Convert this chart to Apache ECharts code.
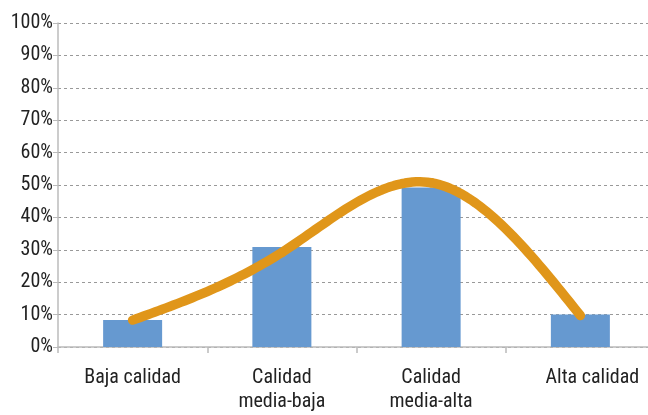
<!DOCTYPE html>
<html><head><meta charset="utf-8">
<script src="https://cdn.jsdelivr.net/npm/echarts@6/dist/echarts.min.js"></script>
<style>html,body{margin:0;padding:0;background:#fff}#c{width:648px;height:415px}</style>
</head><body><div id="c"></div>
<script>
const categories = ['Baja calidad', 'Calidad\nmedia-baja', 'Calidad\nmedia-alta', 'Alta calidad'];
const barValues = [8.3, 30.9, 49.2, 10];
const lineValues = [8.3, 29.2, 50.7, 9.7];
const yTicks = [0, 10, 20, 30, 40, 50, 60, 70, 80, 90, 100];
const font = "'Liberation Sans Narrow', 'Arial Narrow', 'Roboto Condensed', 'Liberation Sans', sans-serif";

// natural cubic spline second derivatives (x = category index, unit spacing)
function naturalSpline(y) {
  const n = y.length, M = new Array(n).fill(0);
  if (n < 3) return M;
  const a = [], b = [], c = [], d = [];
  for (let i = 1; i < n - 1; i++) {
    a.push(1); b.push(4); c.push(1); d.push(6 * (y[i - 1] - 2 * y[i] + y[i + 1]));
  }
  const m = d.length;
  for (let i = 1; i < m; i++) {
    const w = a[i] / b[i - 1];
    b[i] -= w * c[i - 1]; d[i] -= w * d[i - 1];
  }
  const sol = new Array(m);
  sol[m - 1] = d[m - 1] / b[m - 1];
  for (let i = m - 2; i >= 0; i--) sol[i] = (d[i] - c[i] * sol[i + 1]) / b[i];
  for (let i = 0; i < m; i++) M[i + 1] = sol[i];
  return M;
}
const M2 = naturalSpline(lineValues);
function splineAt(i, t) {
  const y0 = lineValues[i], y1 = lineValues[i + 1], m0 = M2[i], m1 = M2[i + 1];
  return (1 - t) * y0 + t * y1 + ((Math.pow(1 - t, 3) - (1 - t)) * m0 + (Math.pow(t, 3) - t) * m1) / 6;
}

const xData = categories.map((c, i) => i === categories.length - 1
  ? { value: c, textStyle: { padding: [0, 0, 0, 24] } }
  : c);

const chart = echarts.init(document.getElementById('c'));
chart.setOption({
  animation: false,
  grid: { left: 58, width: 597, top: 23, bottom: 68, containLabel: false, outerBoundsMode: 'none' },
  xAxis: {
    type: 'category', data: xData, boundaryGap: true,
    axisLine: { lineStyle: { color: '#BBBBBB', width: 1.5 } },
    axisTick: { show: true, length: 6, lineStyle: { color: '#BBBBBB', width: 1.5 } },
    axisLabel: { color: '#222', fontFamily: font, fontSize: 20, margin: 19, lineHeight: 24 }
  },
  yAxis: {
    type: 'value', min: yTicks[0], max: yTicks[yTicks.length - 1], interval: 10,
    axisLine: { show: true, lineStyle: { color: '#BBBBBB', width: 1.5 } },
    axisTick: { show: true, length: 5, lineStyle: { color: '#BBBBBB', width: 1 } },
    splitLine: { lineStyle: { color: '#999', type: [3, 3], width: 1 } },
    axisLabel: { color: '#222', fontFamily: font, fontSize: 20, margin: 5, formatter: v => v + '%' }
  },
  series: [
    { type: 'bar', data: barValues, barWidth: 59, itemStyle: { color: '#6699D0' } },
    {
      type: 'custom', clip: false, z: 5,
      data: lineValues.map((v, i) => [i, v]),
      renderItem: function (params, api) {
        const i = params.dataIndex;
        if (i >= lineValues.length - 1) return null;
        const xa = api.coord([i, lineValues[i]])[0];
        const xb = api.coord([i + 1, lineValues[i + 1]])[0];
        const pts = [];
        for (let k = 0; k <= 40; k++) {
          const t = k / 40;
          const py = api.coord([i, splineAt(i, t)])[1];
          pts.push([xa + t * (xb - xa), py]);
        }
        return {
          type: 'polyline',
          shape: { points: pts },
          style: { stroke: '#E0961A', lineWidth: 9.5, fill: null, lineCap: 'round', lineJoin: 'round' }
        };
      }
    }
  ]
});
</script></body></html>
